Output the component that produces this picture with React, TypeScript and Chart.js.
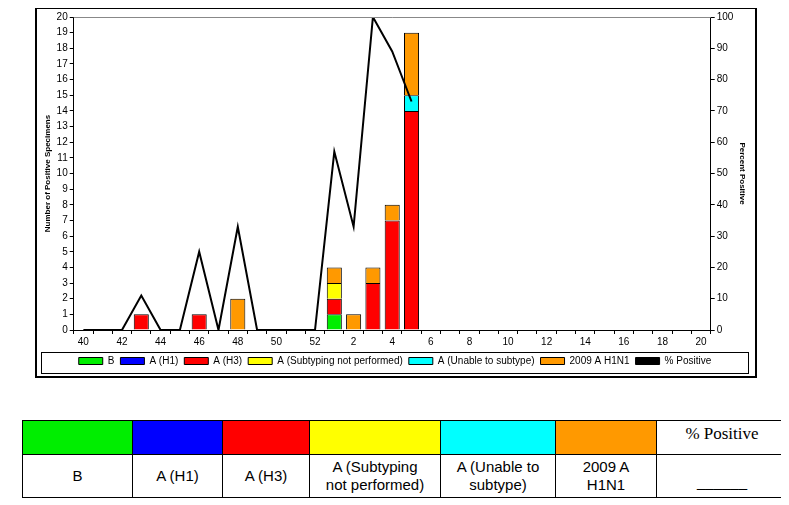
import React, { useEffect, useRef } from "react";
import { Chart, registerables } from "chart.js";
Chart.register(...registerables);

const weeks = ["40","41","42","43","44","45","46","47","48","49","50","51","52","1","2","3","4","5","6","7","8","9","10","11","12","13","14","15","16","17","18","19","20"];
const seriesB =      [0,0,0,0,0,0,0,0,0,0,0,0,0,1,0,0,0,0];
const seriesH1 =     [0,0,0,0,0,0,0,0,0,0,0,0,0,0,0,0,0,0];
const seriesH3 =     [0,0,0,1,0,0,1,0,0,0,0,0,0,1,0,3,7,14];
const seriesSubNP =  [0,0,0,0,0,0,0,0,0,0,0,0,0,1,0,0,0,0];
const seriesUnable = [0,0,0,0,0,0,0,0,0,0,0,0,0,0,0,0,0,1];
const seriesH1N1 =   [0,0,0,0,0,0,0,0,2,0,0,0,0,1,1,1,1,4];
const pctPositive =  [0,0,0,11,0,0,25,0,33,0,0,0,0,57,33,100,89,73];

const legendBorder = {
  id: "legendBorder",
  afterDraw(chart: any) {
    const l = chart.legend;
    if (!l) return;
    const ctx = chart.ctx;
    ctx.save();
    ctx.strokeStyle = "#000";
    ctx.lineWidth = 1;
    ctx.strokeRect(l.left + 0.5, l.top + 2.5, l.width - 1, l.height - 5);
    ctx.restore();
  },
};

export default function App() {
  const ref = useRef<HTMLCanvasElement>(null);
  useEffect(() => {
    const bar = (label: string, data: number[], color: string) => ({
      type: "bar" as const, label, data, backgroundColor: color, borderColor: "#000",
      borderWidth: 1, yAxisID: "y", stack: "s", barPercentage: 0.78, categoryPercentage: 1, order: 2,
    });
    const chart = new Chart(ref.current!, {
      data: {
        labels: weeks,
        datasets: [
          bar("B", seriesB, "#00ee00"),
          bar("A (H1)", seriesH1, "#0000ff"),
          bar("A (H3)", seriesH3, "#ff0000"),
          bar("A (Subtyping not performed)", seriesSubNP, "#ffff00"),
          bar("A (Unable to subtype)", seriesUnable, "#00ffff"),
          bar("2009 A H1N1", seriesH1N1, "#ff9900"),
          { type: "line" as const, label: "% Positive", data: pctPositive, borderColor: "#000", backgroundColor: "#000",
            borderWidth: 2, pointRadius: 0, yAxisID: "y1", order: 1, tension: 0 } as any,
        ],
      },
      options: {
        animation: false, responsive: false,
        layout: { padding: { left: 4, right: 6, top: 4, bottom: 0 } },
        plugins: {
          tooltip: { enabled: false },
          legend: {
            position: "bottom",
            labels: {
              boxWidth: 24, boxHeight: 7, padding: 6, color: "#000",
              font: { family: "Arial, Liberation Sans", size: 10 },
              generateLabels: (c: any) => c.data.datasets.map((d: any, i: number) => ({
                text: d.label, fillStyle: d.type === "line" ? "#000" : d.backgroundColor,
                strokeStyle: "#000", lineWidth: 1, datasetIndex: i, hidden: false,
              })),
            },
          },
        },
        scales: {
          x: {
            stacked: true, offset: true,
            grid: { display: true, drawOnChartArea: false, tickLength: 4, color: "#000" },
            border: { color: "#000" },
            ticks: {
              autoSkip: false, maxRotation: 0, color: "#000", padding: 2,
              font: { family: "Arial, Liberation Sans", size: 10 },
              callback: (_v: any, i: number) => (i % 2 === 0 ? weeks[i] : ""),
            },
          },
          y: {
            stacked: true, min: 0, max: 20, position: "left",
            ticks: { stepSize: 1, color: "#000", font: { family: "Arial, Liberation Sans", size: 10 }, padding: 2 },
            grid: { drawOnChartArea: false, tickLength: 4, color: "#000" },
            border: { color: "#000" },
            title: { display: true, text: "Number of Positive Specimens", color: "#000", padding: 2,
              font: { family: "Arial, Liberation Sans", size: 8, weight: "bold" } },
          },
          y1: {
            min: 0, max: 100, position: "right",
            ticks: { stepSize: 10, color: "#000", font: { family: "Arial, Liberation Sans", size: 10 }, padding: 2 },
            grid: { drawOnChartArea: false, tickLength: 4, color: "#000" },
            border: { color: "#000" },
            title: { display: true, text: "Percent Positive", color: "#000", padding: 2,
              font: { family: "Arial, Liberation Sans", size: 8, weight: "bold" } },
          },
        },
      },
      plugins: [legendBorder, {
        id: "topLine",
        afterDraw(c: any) {
          const a = c.chartArea, ctx = c.ctx;
          ctx.save(); ctx.strokeStyle = "#888"; ctx.lineWidth = 1;
          ctx.beginPath(); ctx.moveTo(a.left, a.top + 0.5); ctx.lineTo(a.right, a.top + 0.5); ctx.stroke();
          ctx.restore();
        },
      }],
    } as any);
    return () => chart.destroy();
  }, []);

  const cols = [
    { color: "#00ee00", w: 109, label: "B" },
    { color: "#0000ff", w: 89, label: "A (H1)" },
    { color: "#ff0000", w: 86, label: "A (H3)" },
    { color: "#ffff00", w: 130, label: "A (Subtyping\nnot performed)" },
    { color: "#00ffff", w: 114, label: "A (Unable to\nsubtype)" },
    { color: "#ff9900", w: 100, label: "2009 A\nH1N1" },
  ];
  const cell: React.CSSProperties = { border: "1px solid #000", padding: 0, textAlign: "center", whiteSpace: "pre-line",
    fontFamily: "Arial, 'Liberation Sans'", fontSize: 15, lineHeight: "18px" };
  return (
    <div style={{ position: "relative", width: 789, height: 505 }}>
      <div style={{ position: "absolute", left: 27, top: -1, width: 718, height: 367, border: "2px solid #000", background: "#fff" }}>
        <canvas ref={ref} width={718} height={367} />
      </div>
      <table style={{ position: "absolute", left: 14, top: 412, borderCollapse: "collapse", tableLayout: "fixed", width: 765 }}>
        <tbody>
          <tr style={{ height: 34 }}>
            {cols.map((c, i) => <td key={i} style={{ ...cell, width: c.w, background: c.color }} />)}
            <td style={{ ...cell, fontFamily: "'Liberation Serif', serif", fontSize: 17, verticalAlign: "top", paddingTop: 4, borderRight: "none" }}>% Positive</td>
          </tr>
          <tr style={{ height: 43 }}>
            {cols.map((c, i) => <td key={i} style={cell}>{c.label}</td>)}
            <td style={{ ...cell, verticalAlign: "bottom", paddingBottom: 6, borderRight: "none" }}>______</td>
          </tr>
        </tbody>
      </table>
    </div>
  );
}
